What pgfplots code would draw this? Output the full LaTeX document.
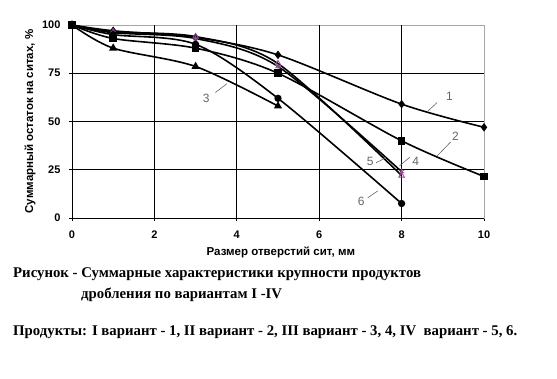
\documentclass[border=0pt]{standalone}
\usepackage{fontspec}
\setmainfont{Liberation Sans}
\newfontfamily\timesfont{Liberation Serif}
\usepackage{pgfplots}
\pgfplotsset{compat=1.18}
\definecolor{purp}{RGB}{150,70,150}
\begin{document}
\begin{tikzpicture}
\path[use as bounding box] (-72pt,-161pt) rectangle (485pt,218pt);
\begin{axis}[
  at={(0,0)}, anchor=south west,
  scale only axis, width=412pt, height=193pt,
  xmin=0, xmax=10, ymin=0, ymax=100,
  xtick={0,2,...,10}, ytick={0,25,...,100},
  tick pos=left, tick align=outside, major tick length=3pt,
  tick style={black, line width=0.8pt},
  axis line style={gray!70, line width=0.6pt},
  extra x ticks={2,4,6,8}, extra x tick labels={},
  extra y ticks={25,50,75}, extra y tick labels={},
  extra tick style={grid=major, major tick length=0pt},
  major grid style={black, line width=0.8pt},
  /pgf/number format/assume math mode=true,
  tick label style={font=\fontsize{11}{13}\selectfont\bfseries},
  xticklabel style={yshift=-6pt},
  yticklabel style={xshift=-5pt},
  xlabel={Размер отверстий сит, мм},
  ylabel={Суммарный остаток на ситах, \%},
  every axis x label/.style={at={(rel axis cs:0.507,0)}, anchor=center, yshift=-34pt, font=\fontsize{11.5}{13}\selectfont\bfseries},
  every axis y label/.style={at={(rel axis cs:0,0.5)}, xshift=-42pt, anchor=center, rotate=90, font=\fontsize{11.5}{13}\selectfont\bfseries},
  clip=false,
]
\draw[black, line width=0.8pt] (rel axis cs:0,1) -- (rel axis cs:0,0) -- (rel axis cs:1,0);
% series 1
\addplot[black, line width=1.6pt, smooth, mark=diamond*, mark size=3pt] coordinates {(0,100) (1,97) (3,93.5) (5,84.5) (8,59) (10,47)};
% series 2
\addplot[black, line width=1.6pt, smooth, mark=square*, mark size=3pt] coordinates {(0,100) (1,93) (3,88) (5,75) (8,40) (10,21.5)};
% series 3
\addplot[black, line width=1.6pt, smooth, mark=triangle*, mark size=3.2pt] coordinates {(0,100) (1,88) (3,78.5) (5,58)};
% series 4
\addplot[black, line width=1.6pt, smooth, mark=triangle, mark size=3.2pt, mark options={purp, line width=0.8pt}] coordinates {(0,100) (1,96.5) (3,94) (5,80) (8,22)};
% series 5
\addplot[black, line width=1.6pt, smooth, mark=asterisk, mark size=3pt, mark options={purp, line width=0.8pt}] coordinates {(0,100) (1,96) (3,93) (5,78.5) (8,24)};
% series 6
\addplot[black, line width=1.6pt, smooth, mark=*, mark size=2.8pt] coordinates {(0,100) (1,95) (3,90) (5,62) (8,7.5)};
% labels
\begin{scope}[every node/.style={text=black!60, font=\fontsize{12}{14}\selectfont}]
\node at (axis cs:9.16,63) {1};
\node at (axis cs:9.31,42.2) {2};
\node at (axis cs:3.26,61.9) {3};
\node at (axis cs:8.34,29.2) {4};
\node at (axis cs:7.24,29.5) {5};
\node at (axis cs:7.02,8.8) {6};
\end{scope}
\begin{scope}[black!60, line width=0.6pt]
\draw (axis cs:8.86,59.8) -- (axis cs:8.62,55);
\draw (axis cs:9.19,39.4) -- (axis cs:8.86,32.1);
\draw (axis cs:3.48,65) -- (axis cs:3.76,69.6);
\draw (axis cs:8.2,31.5) -- (axis cs:7.95,27);
\draw (axis cs:7.38,28.6) -- (axis cs:7.62,31.3);
\draw (axis cs:7.18,10.5) -- (axis cs:7.42,14);
\end{scope}
\end{axis}
\begin{scope}[every node/.style={font=\timesfont\bfseries\fontsize{14.8}{17}\selectfont, inner sep=0pt}]
\node[anchor=base west] at (-59pt,-60pt) {Рисунок - Суммарные характеристики крупности продуктов};
\node[anchor=base west] at (9pt,-81pt) {дробления по вариантам I -IV};
\node[anchor=base west] at (-59pt,-118pt) {Продукты: I вариант - 1, II вариант - 2, III вариант - 3, 4, IV\ \ вариант - 5, 6.};
\end{scope}
\end{tikzpicture}
\end{document}
